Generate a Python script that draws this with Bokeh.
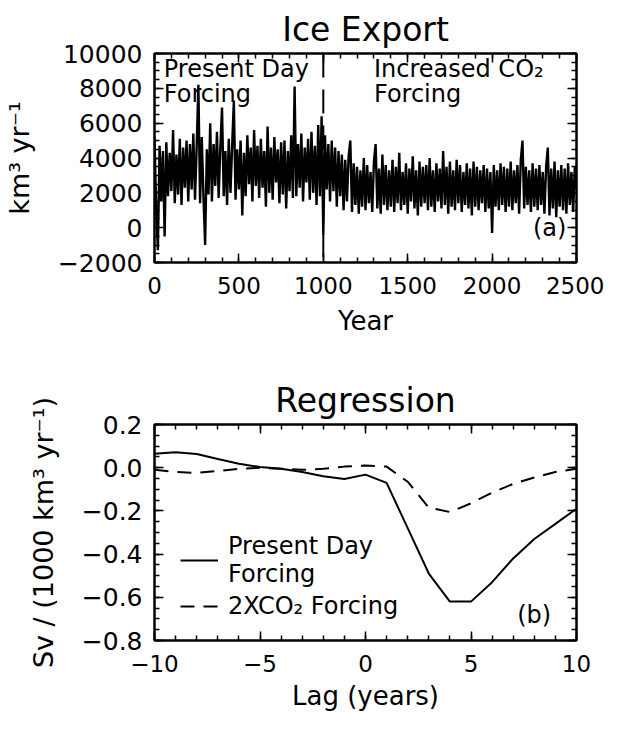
from bokeh.plotting import figure
from bokeh.layouts import column
from bokeh.models import (Range1d, LinearAxis, FixedTicker, Span, Label, Legend,
                          LegendItem, CustomJSTickFormatter)
from bokeh.embed import file_html
from bokeh.resources import INLINE

FONT = "DejaVu Sans"

# ---------------- data ----------------
years = list(range(0, 2501, 10))
ice_export = [
    5200, 1100, -1300, 4700, 1500, 4400, -500, 4900, 1800, 4300,
    2100, 5600, 1400, 4200, 1900, 5100, 1300, 4600, 2300, 5000,
    1500, 4800, 2200, 5400, 1600, 4700, 8200, 1400, 5200, 1800,
    -1000, 4500, 1900, 6000, 1500, 4800, 2400, 5500, 1700, 4600,
    6900, 1800, 4400, 1300, 5100, 2000, 4700, 7300, 1600, 4500,
    2200, 5000, 700, 4300, 1800, 5300, 2500, 4600, 1500, 5600,
    2400, 4700, 1700, 5100, 2300, 4400, 1200, 5800, 2000, 4600,
    1600, 5200, 2600, 4500, 1400, 4900, 1900, 5000, 1100, 4400,
    2100, 5300, 1700, 8100, 1800, 4800, 2300, 5400, 1500, 4600,
    2600, 5100, 1600, 5500, 2000, 4700, 1300, 5900, 1800, 6400,
    -400, 5300, 2200, 4800, 1500, 5000, 2100, 4600, 1200, 4400,
    1800, 4200, 1000, 3900, 1500, 4100, 5000, 900, 3700, 1300,
    3500, 800, 3300, 1200, 4000, 1000, 3600, 1400, 3200, 900,
    3800, 4800, 1100, 3400, 800, 4200, 1300, 3600, 1000, 3300,
    1200, 3900, 900, 3500, 1400, 4300, 1000, 3200, 1300, 3700,
    800, 3400, 1500, 4100, 1100, 3300, 700, 3800, 1200, 3500,
    1400, 3600, 1000, 4000, 1200, 3300, 900, 3700, 1500, 3400,
    1100, 4400, 1300, 3500, 800, 3800, 1200, 3300, 1000, 3900,
    1400, 3600, 900, 3200, 1300, 3700, 1100, 3400, 700, 3800,
    1200, 3500, 1000, 3300, 1400, 3600, 900, 3400, 1100, 3200,
    -300, 3600, 1200, 3300, 1000, 3700, 1300, 3500, 900, 3400,
    1200, 3800, 1000, 3300, 1400, 3600, 800, 3900, 5000, 1100,
    3500, 1300, 3300, 900, 3700, 1200, 3400, 1000, 3600, 1300,
    3200, 800, 3500, 4600, 700, 3400, 1100, 3800, 600, 3300,
    1200, 3600, 1000, 3400, 800, 3700, 1300, 3200, 900, 3500,
    2200,
]
regime_change_year = 1000

lags = list(range(-10, 11))
present_day = [0.065, 0.072, 0.063, 0.040, 0.018, 0.003, -0.005, -0.020, -0.040, -0.052,
               -0.032, -0.070, -0.280, -0.490, -0.620, -0.620, -0.530, -0.420, -0.330,
               -0.260, -0.190]
co2_2x = [-0.010, -0.020, -0.024, -0.015, -0.005, 0.000, -0.005, -0.010, -0.005, 0.005,
          0.010, 0.005, -0.065, -0.185, -0.205, -0.165, -0.115, -0.075, -0.045, -0.020,
          -0.005]

top_xticks = [0, 500, 1000, 1500, 2000, 2500]
top_xtick_labels = ["0", "500", "1000", "1500", "2000", "2500"]
top_yticks = [-2000, 0, 2000, 4000, 6000, 8000, 10000]
top_ytick_labels = ["\u22122000", "0", "2000", "4000", "6000", "8000", "10000"]
bot_xticks = [-10, -5, 0, 5, 10]
bot_xtick_labels = ["\u221210", "\u22125", "0", "5", "10"]
bot_yticks = [-0.8, -0.6, -0.4, -0.2, 0.0, 0.2]
bot_ytick_labels = ["\u22120.8", "\u22120.6", "\u22120.4", "\u22120.2", "0.0", "0.2"]


def minor_list(lo, hi, step):
    n = int(round((hi - lo) / step))
    return [lo + i * step for i in range(n + 1)]


def setup_axes(p, xt, xl, xminor, yt, yl, yminor):
    xb = p.xaxis[0]
    yl_ax = p.yaxis[0]
    xb.ticker = FixedTicker(ticks=xt, minor_ticks=xminor)
    yl_ax.ticker = FixedTicker(ticks=yt, minor_ticks=yminor)
    xb.major_label_overrides = dict(zip(xt, xl))
    yl_ax.major_label_overrides = dict(zip(yt, yl))
    empty = CustomJSTickFormatter(code="return ''")
    top = LinearAxis(ticker=FixedTicker(ticks=xt, minor_ticks=xminor), formatter=empty,
                     major_label_standoff=0)
    right = LinearAxis(ticker=FixedTicker(ticks=yt, minor_ticks=yminor), formatter=empty,
                       major_label_standoff=0)
    p.add_layout(top, "above")
    p.add_layout(right, "right")
    for ax in (xb, yl_ax, top, right):
        ax.axis_line_color = "black"
        ax.axis_line_width = 2
        ax.major_tick_in = 9
        ax.major_tick_out = 0
        ax.minor_tick_in = 5
        ax.minor_tick_out = 0
        ax.major_tick_line_color = "black"
        ax.major_tick_line_width = 1.5
        ax.minor_tick_line_color = "black"
        ax.minor_tick_line_width = 1.5
        ax.major_label_text_font = FONT
        ax.major_label_text_font_size = "23px"
        ax.major_label_text_color = "black"
        ax.axis_label_text_font = FONT
        ax.axis_label_text_font_size = "26px"
        ax.axis_label_text_font_style = "normal"
        ax.axis_label_text_color = "black"
    yl_ax.major_label_text_font_size = "25px"
    yl_ax.axis_label_text_font_size = "27px"
    xb.major_label_standoff = 14
    yl_ax.major_label_standoff = 12
    p.grid.visible = False
    p.outline_line_color = "black"
    p.outline_line_width = 2
    p.title.text_font = FONT
    p.title.text_font_size = "33px"
    p.title.text_font_style = "normal"
    p.title.align = "center"
    p.title.text_color = "black"
    return xb, yl_ax


def txt(p, x, y, s, yoff=0, align="left", baseline="top", size="24px"):
    p.add_layout(Label(x=x, y=y, text=s, y_offset=yoff, text_align=align,
                       text_baseline=baseline, text_font=FONT, text_font_size=size,
                       text_color="black"))


# ---------------- top panel ----------------
p1 = figure(frame_width=422, frame_height=209, x_range=Range1d(0, 2500),
            y_range=Range1d(-2000, 10000), output_backend="svg", toolbar_location=None,
            min_border_left=151, min_border_right=28, min_border_top=53,
            min_border_bottom=84, title="Ice Export", background_fill_color="white",
            border_fill_color="white")
xb1, yl1 = setup_axes(p1, top_xticks, top_xtick_labels, minor_list(0, 2500, 100),
                      top_yticks, top_ytick_labels, minor_list(-2000, 10000, 500))
xb1.axis_label = "Year"
xb1.axis_label_standoff = 9
yl1.axis_label = "km\u00b3 yr\u207b\u00b9"
yl1.axis_label_standoff = 20

p1.line(years, ice_export, line_color="black", line_width=2.4)
p1.add_layout(Span(location=regime_change_year, dimension="height", line_color="black",
                   line_width=2, line_dash="24 12"))

txt(p1, 55, 10000, "Present Day", yoff=-1)
txt(p1, 55, 10000, "Forcing", yoff=-26)
txt(p1, 1300, 10000, "Increased CO\u2082", yoff=-1)
txt(p1, 1300, 10000, "Forcing", yoff=-26)
txt(p1, 2440, 0, "(a)", align="right", baseline="middle")

# ---------------- bottom panel ----------------
p2 = figure(frame_width=422, frame_height=216, x_range=Range1d(-10, 10),
            y_range=Range1d(-0.8, 0.2), output_backend="svg", toolbar_location=None,
            min_border_left=151, min_border_right=28, min_border_top=78,
            min_border_bottom=72, title="Regression", background_fill_color="white",
            border_fill_color="white")
xb2, yl2 = setup_axes(p2, bot_xticks, bot_xtick_labels, minor_list(-10, 10, 1),
                      bot_yticks, bot_ytick_labels, minor_list(-0.8, 0.2, 0.05))
xb2.axis_label = "Lag (years)"
xb2.axis_label_standoff = 6
yl2.axis_label = "Sv / (1000 km\u00b3 yr\u207b\u00b9)"
yl2.axis_label_standoff = 20

r1 = p2.line(lags, present_day, line_color="black", line_width=2)
r2 = p2.line(lags, co2_2x, line_color="black", line_width=2, line_dash="14 9")

legend = Legend(items=[LegendItem(label="Present Day\nForcing", renderers=[r1]),
                       LegendItem(label="2XCO\u2082 Forcing", renderers=[r2])],
                location=(26, 20), border_line_color=None, background_fill_alpha=0,
                label_text_font=FONT, label_text_font_size="24px",
                label_text_color="black", glyph_width=38,
                label_standoff=10, padding=2, spacing=4, margin=0)
p2.add_layout(legend)
txt(p2, 8.8, -0.68, "(b)", align="right", baseline="middle")

layout = column(p1, p2, spacing=0)
open("out.html", "w").write(file_html(layout, INLINE))
